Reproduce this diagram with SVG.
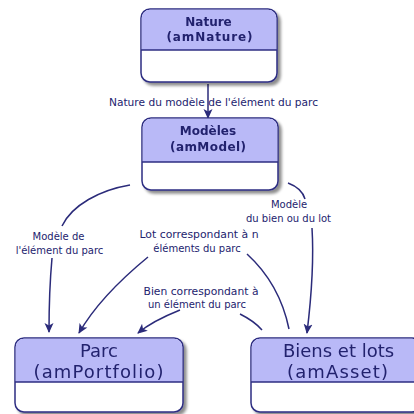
<svg xmlns="http://www.w3.org/2000/svg" width="414" height="414" viewBox="0 0 414 414">
<defs>
<marker id="ah" markerWidth="10" markerHeight="10" viewBox="0 0 10 10" refX="9" refY="5" orient="auto" markerUnits="userSpaceOnUse">
<path d="M0,0.5 L10,5 L0,9.5 L2.5,5 Z" fill="#2b2b7a"/>
</marker>
<filter id="sh" x="-10%" y="-10%" width="130%" height="130%">
<feGaussianBlur in="SourceAlpha" stdDeviation="1.5"/>
<feOffset dx="2.5" dy="2.5" result="b"/>
<feComponentTransfer><feFuncA type="linear" slope="0.45"/></feComponentTransfer>
<feMerge><feMergeNode/><feMergeNode in="SourceGraphic"/></feMerge>
</filter>
</defs>
<style>
.box{fill:#ffffff;stroke:#2e2e82;stroke-width:1.5}
.hd{fill:#b9b9f7;stroke:none}
.dv{stroke:#2e2e82;stroke-width:1.3}
.t{font-family:"DejaVu Sans",Verdana,sans-serif;fill:#23236e;text-anchor:middle}
.tb{font-weight:bold;font-size:12px}
.tl{font-size:18px}
.lab{font-family:"DejaVu Sans",Verdana,sans-serif;fill:#23236e;font-size:10px;text-anchor:middle}
.c{fill:none;stroke:#2b2b7a;stroke-width:1.5}
</style>
<rect width="414" height="414" fill="#ffffff"/>

<g id="connectors">
<line class="c" x1="208" y1="84" x2="208" y2="118" marker-end="url(#ah)"/>
<path class="c" d="M130,185 C100,190 72,205 62,226"/>
<path class="c" d="M52,258 C50,280 49,305 49,332" marker-end="url(#ah)"/>
<path class="c" d="M247,254 C270,275 283,300 289,329"/>
<path class="c" d="M148,257 C120,280 95,305 79,333" marker-end="url(#ah)"/>
<path class="c" d="M240,314 C248,318 256,323 262,330"/>
<path class="c" d="M180,310 C165,316 150,323 138,333" marker-end="url(#ah)"/>
<path class="c" d="M288,183 C296,186 303,192 305,199"/>
<path class="c" d="M312,228 C314,260 311,300 307,333" marker-end="url(#ah)"/>
</g>

<g id="labels">
<text class="lab" x="213.5" y="106" textLength="209" lengthAdjust="spacingAndGlyphs">Nature du modèle de l'élément du parc</text>
<text class="lab" x="58.5" y="240">Modèle de</text>
<text class="lab" x="59.5" y="254">l'élément du parc</text>
<text class="lab" x="199" y="238" textLength="119" lengthAdjust="spacingAndGlyphs">Lot correspondant à n</text>
<text class="lab" x="197" y="252">éléments du parc</text>
<text class="lab" x="201" y="295" textLength="115" lengthAdjust="spacingAndGlyphs">Bien correspondant à</text>
<text class="lab" x="197" y="308">un élément du parc</text>
<text class="lab" x="289" y="208">Modèle</text>
<text class="lab" x="288.5" y="222">du bien ou du lot</text>
</g>

<g id="nature" filter="url(#sh)">
<rect class="box" x="141" y="9" width="136" height="73" rx="9"/>
<path class="hd" d="M150,9.75 H268 A8.25,8.25 0 0 1 276.25,18 V50 H141.75 V18 A8.25,8.25 0 0 1 150,9.75 Z"/>
<line class="dv" x1="141" y1="50" x2="277" y2="50"/>
<text class="t tb" x="208.5" y="26">Nature</text>
<text class="t tb" x="209.5" y="41" textLength="86" lengthAdjust="spacing">(amNature)</text>
</g>

<g id="modeles" filter="url(#sh)">
<rect class="box" x="142" y="118" width="136" height="72" rx="9"/>
<path class="hd" d="M151,118.75 H269 A8.25,8.25 0 0 1 277.25,127 V162 H142.75 V127 A8.25,8.25 0 0 1 151,118.75 Z"/>
<line class="dv" x1="142" y1="162" x2="278" y2="162"/>
<text class="t tb" x="208" y="135">Modèles</text>
<text class="t tb" x="208" y="151" textLength="76" lengthAdjust="spacing">(amModel)</text>
</g>

<g id="parc" filter="url(#sh)">
<rect class="box" x="15" y="338" width="168" height="74" rx="9"/>
<path class="hd" d="M24,338.75 H174 A8.25,8.25 0 0 1 182.25,347 V382 H15.75 V347 A8.25,8.25 0 0 1 24,338.75 Z"/>
<line class="dv" x1="15" y1="382" x2="183" y2="382"/>
<text class="t tl" x="99" y="357">Parc</text>
<text class="t tl" x="98.5" y="378" textLength="130" lengthAdjust="spacing">(amPortfolio)</text>
</g>

<g id="biens" filter="url(#sh)">
<rect class="box" x="251" y="338" width="170" height="74" rx="9"/>
<path class="hd" d="M260,338.75 H412 A8.25,8.25 0 0 1 420.25,347 V382 H251.75 V347 A8.25,8.25 0 0 1 260,338.75 Z"/>
<line class="dv" x1="251" y1="382" x2="421" y2="382"/>
<text class="t tl" x="338.5" y="357">Biens et lots</text>
<text class="t tl" x="337.5" y="378" textLength="101" lengthAdjust="spacing">(amAsset)</text>
</g>
</svg>
